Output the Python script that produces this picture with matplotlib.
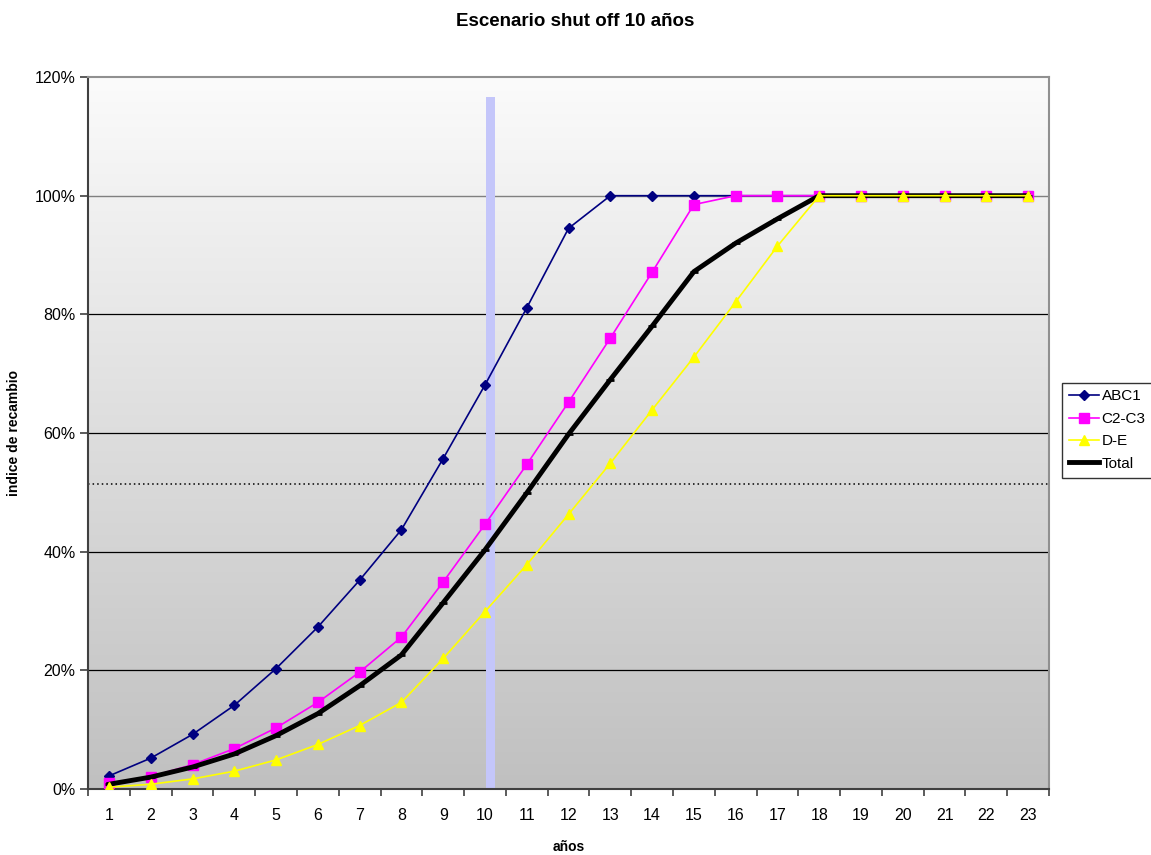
import numpy as np
import matplotlib.pyplot as plt
from matplotlib.colors import LinearSegmentedColormap

plt.rcParams['font.family'] = ['Liberation Sans', 'DejaVu Sans']

years = list(range(1, 24))

abc1 = [2.2, 5.2, 9.2, 14.1, 20.3, 27.3, 35.2, 43.7, 55.7, 68.1, 81.1, 94.5,
        100, 100, 100, 100, 100, 100, 100, 100, 100, 100, 100]
c2c3 = [1.0, 2.1, 4.1, 6.8, 10.3, 14.6, 19.7, 25.6, 34.9, 44.6, 54.7, 65.2,
        76.0, 87.1, 98.5, 100, 100, 100, 100, 100, 100, 100, 100]
de = [0.3, 0.8, 1.7, 3.0, 4.9, 7.5, 10.7, 14.6, 22.0, 29.9, 37.8, 46.3,
      54.9, 63.9, 72.8, 82.1, 91.5, 100, 100, 100, 100, 100, 100]
total = [0.8, 2.0, 3.7, 5.9, 9.0, 12.7, 17.4, 22.6, 31.4, 40.3, 49.9, 59.8,
         69.0, 78.0, 87.2, 92.0, 96.1, 100, 100, 100, 100, 100, 100]

shutoff_year = 10
shutoff_top = 116.6
reference_level = 51.4

fig = plt.figure(figsize=(11.51, 8.55), dpi=100)
ax = fig.add_axes([0.0765, 0.0772, 0.8349, 0.8327])

# grey gradient for the plot area
cmap = LinearSegmentedColormap.from_list('bg', ['#c0c0c0', '#fbfbfb'])
grad = np.linspace(0, 1, 256).reshape(-1, 1)
ax.imshow(grad, cmap=cmap, aspect='auto', origin='lower',
          extent=[0.5, 23.5, 0, 120], zorder=0)

for v in [20, 40, 60, 80]:
    ax.axhline(v, color='black', lw=0.9, zorder=1)
ax.axhline(100, color='#808080', lw=1.0, zorder=1)

ax.axhline(reference_level, color='black', lw=1.1, ls=(0, (1, 2)), zorder=1)

ax.bar(shutoff_year + 0.14, shutoff_top, width=0.22, color='#c4c6fa',
       zorder=2)

ax.plot(years, abc1, color='#000080', lw=1.2, marker='D', ms=5.5,
        label='ABC1', zorder=3)
ax.plot(years, c2c3, color='#ff00ff', lw=1.2, marker='s', ms=7,
        label='C2-C3', zorder=4)
ax.plot(years, total, color='black', lw=3.5, marker='_', ms=6, mew=2,
        label='Total', zorder=5)
ax.plot(years, de, color='#ffff00', lw=1.2, marker='^', ms=7,
        label='D-E', zorder=6)

ax.set_xlim(0.5, 23.5)
ax.set_ylim(0, 120)
ax.set_xticks(years)
ax.set_xticklabels([str(y) for y in years], fontsize=11.5)
ax.tick_params(axis='x', which='major', length=0, pad=14)
ax.set_xticks(np.arange(0.5, 24, 1), minor=True)
ax.tick_params(axis='x', which='minor', length=5, width=1.2, color='#404040')
ax.set_yticks(range(0, 121, 20))
ax.set_yticklabels([f'{v}%' for v in range(0, 121, 20)], fontsize=11.5)
ax.tick_params(axis='y', length=6, width=1.2, color='#404040', pad=3)

for side in ['left', 'bottom']:
    ax.spines[side].set_color('#404040')
    ax.spines[side].set_linewidth(1.5)
for side in ['top', 'right']:
    ax.spines[side].set_color('#909090')
    ax.spines[side].set_linewidth(1.5)

ax.set_xlabel('años', fontsize=10, fontweight='bold', labelpad=12)
ax.set_ylabel('indice de recambio', fontsize=10, fontweight='bold', labelpad=10)
fig.suptitle('Escenario shut off 10 años', fontsize=13.5, fontweight='bold',
             y=0.985)

h, l = ax.get_legend_handles_labels()
order = [0, 1, 3, 2]
leg = fig.legend([h[i] for i in order], [l[i] for i in order],
                 loc='center left', bbox_to_anchor=(0.9225, 0.497),
                 fontsize=11, frameon=True, fancybox=False,
                 handlelength=2.0, handletextpad=0.15, borderpad=0.45,
                 borderaxespad=0, labelspacing=0.55)
leg.get_frame().set_edgecolor('black')
leg.get_frame().set_linewidth(1.0)

fig.savefig('out.png', dpi=100)
